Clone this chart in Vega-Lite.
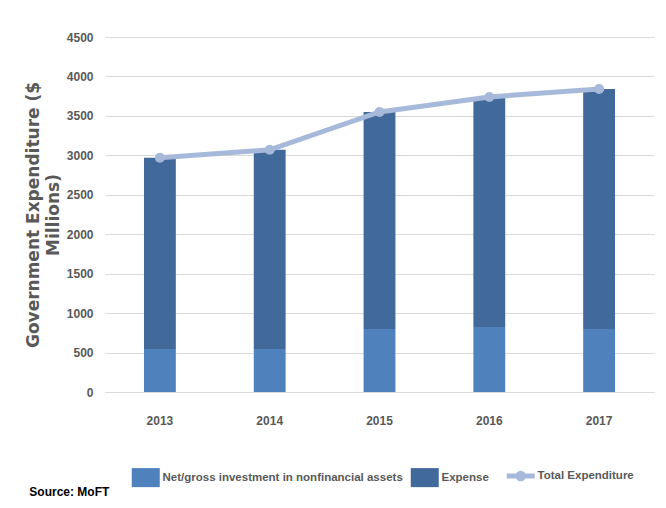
{
  "$schema": "https://vega.github.io/schema/vega-lite/v6.json",
  "width": 549,
  "height": 355,
  "autosize": {"type": "none"},
  "padding": {"left": 105, "top": 37, "right": 12, "bottom": 116},
  "background": "white",
  "datasets": {
    "parts": [
      {"year": "2013", "category": "Net/gross investment in nonfinancial assets", "value": 545},
      {"year": "2013", "category": "Expense", "value": 2425},
      {"year": "2014", "category": "Net/gross investment in nonfinancial assets", "value": 545},
      {"year": "2014", "category": "Expense", "value": 2525},
      {"year": "2015", "category": "Net/gross investment in nonfinancial assets", "value": 800},
      {"year": "2015", "category": "Expense", "value": 2750},
      {"year": "2016", "category": "Net/gross investment in nonfinancial assets", "value": 825},
      {"year": "2016", "category": "Expense", "value": 2915},
      {"year": "2017", "category": "Net/gross investment in nonfinancial assets", "value": 800},
      {"year": "2017", "category": "Expense", "value": 3040}
    ],
    "totals": [
      {"year": "2013", "category": "Total Expenditure", "value": 2970},
      {"year": "2014", "category": "Total Expenditure", "value": 3070},
      {"year": "2015", "category": "Total Expenditure", "value": 3550},
      {"year": "2016", "category": "Total Expenditure", "value": 3740},
      {"year": "2017", "category": "Total Expenditure", "value": 3840}
    ]
  },
  "title": {
    "text": "Source: MoFT",
    "orient": "bottom",
    "anchor": "start",
    "frame": "bounds",
    "font": "Liberation Sans",
    "fontSize": 12,
    "fontWeight": "bold",
    "color": "#000000",
    "offset": -2,
    "dx": 5
  },
  "config": {
    "view": {"stroke": null},
    "axis": {
      "labelFont": "Liberation Sans",
      "labelFontWeight": "bold",
      "labelFontSize": 12,
      "labelColor": "#595959",
      "titleFont": "DejaVu Sans",
      "titleFontWeight": "bold",
      "titleFontSize": 17,
      "titleColor": "#595959",
      "ticks": false,
      "gridColor": "#d9d9d9",
      "gridWidth": 1
    }
  },
  "encoding": {
    "x": {
      "field": "year",
      "type": "nominal",
      "scale": {"paddingInner": 0.71, "paddingOuter": 0.355},
      "axis": {"title": null, "labelAngle": 0, "labelPadding": 23, "domainColor": "#d9d9d9", "domainWidth": 1}
    },
    "y": {
      "field": "value",
      "type": "quantitative",
      "scale": {"domain": [0, 4500], "nice": false},
      "axis": {
        "title": ["Government Expenditure ($", "Millions)"],
        "titlePadding": 4,
        "titleLineHeight": 20,
        "values": [0, 500, 1000, 1500, 2000, 2500, 3000, 3500, 4000, 4500],
        "format": "d",
        "domain": false,
        "labelPadding": 12
      }
    }
  },
  "layer": [
    {
      "data": {"name": "parts"},
      "mark": {"type": "bar"},
      "encoding": {
        "color": {
          "field": "category",
          "type": "nominal",
          "scale": {
            "domain": ["Net/gross investment in nonfinancial assets", "Expense", "Total Expenditure"],
            "range": ["#4f81bd", "#416a9b", "#a7b9da"]
          },
          "legend": {
            "title": null,
            "orient": "none",
            "direction": "horizontal",
            "legendX": 35,
            "legendY": 433,
            "labelFont": "Liberation Sans",
            "labelFontWeight": "bold",
            "labelFontSize": 11.5,
            "labelColor": "#595959",
            "labelLimit": 0,
            "labelOffset": 11,
            "columnPadding": 7,
            "symbolSize": 784,
            "symbolType": "M-1,-0.68H1V0.68H-1Z",
            "symbolOpacity": 1,
            "encode": {
              "symbols": {
                "update": {
                  "shape": {"signal": "datum.value === 'Total Expenditure' ? 'M-1,0H1M-0.2,0A0.2,0.2 0 1,0 0.2,0A0.2,0.2 0 1,0 -0.2,0Z' : 'M-1,-0.68H1V0.68H-1Z'"},
                  "fill": {"signal": "scale('color', datum.value)"},
                  "stroke": {"signal": "datum.value === 'Total Expenditure' ? scale('color', datum.value) : null"},
                  "strokeWidth": {"signal": "datum.value === 'Total Expenditure' ? 5 : 0"},
                  "opacity": {"value": 1}
                }
              }
            }
          }
        },
        "order": {"field": "category", "sort": "descending"}
      }
    },
    {
      "data": {"name": "totals"},
      "mark": {"type": "line", "strokeWidth": 5, "point": {"filled": true, "size": 100, "opacity": 1}},
      "encoding": {
        "color": {"field": "category", "type": "nominal"}
      }
    }
  ]
}
